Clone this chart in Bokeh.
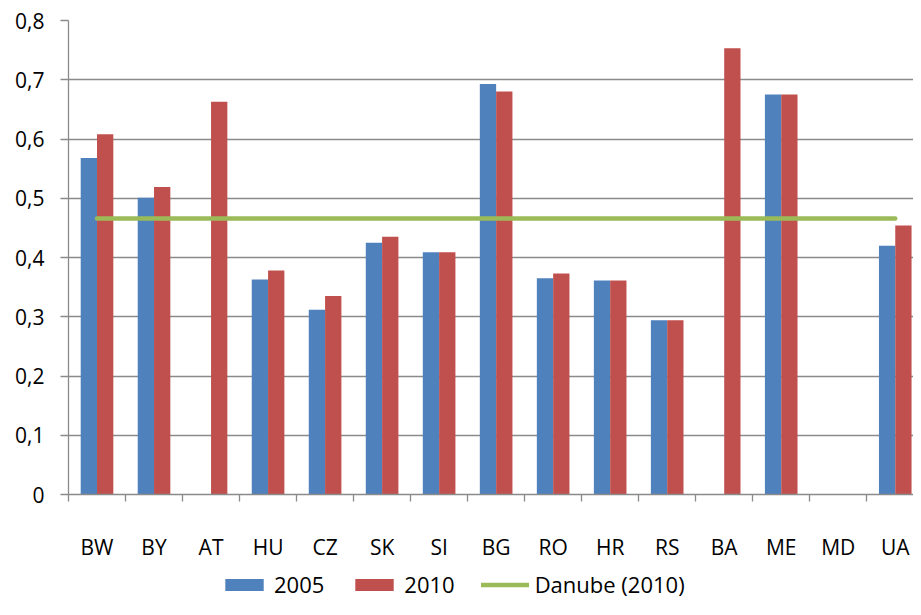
import numpy as np
from bokeh.plotting import figure
from bokeh.layouts import column
from bokeh.models import (ColumnDataSource, Range1d, FixedTicker, Legend, LegendItem)
from bokeh.embed import file_html
from bokeh.resources import INLINE

categories = ["BW", "BY", "AT", "HU", "CZ", "SK", "SI", "BG", "RO", "HR", "RS", "BA", "ME", "MD", "UA"]
values_2005 = [0.568, 0.501, None, 0.363, 0.312, 0.425, 0.409, 0.693, 0.365, 0.361, 0.294, None, 0.675, None, 0.420]
values_2010 = [0.608, 0.519, 0.663, 0.378, 0.335, 0.435, 0.409, 0.680, 0.373, 0.361, 0.294, 0.753, 0.675, None, 0.454]
danube_2010 = 0.466
y_ticks = [i / 10 for i in range(9)]
y_tick_labels = ["0", "0,1", "0,2", "0,3", "0,4", "0,5", "0,6", "0,7", "0,8"]
legend_labels = ["2005", "2010", "Danube (2010)"]

FONT = "Open Sans"
FS = "21px"
BLUE = "#4F81BD"
RED = "#C0504D"
GREEN = "#9BBB59"
GRID = "#8A8A8A"
W = 913

idx = np.arange(len(categories))

def series(vals, offset):
    xs, tops = [], []
    for i, v in enumerate(vals):
        if v is not None:
            xs.append(i + offset)
            tops.append(v)
    return ColumnDataSource(dict(x=xs, top=tops))

bw = 0.286
src_2005 = series(values_2005, -bw / 2)
src_2010 = series(values_2010, bw / 2)
src_danube = ColumnDataSource(dict(x=[idx[0], idx[-1]], y=[danube_2010, danube_2010]))

p = figure(width=W, height=563, output_backend="svg", toolbar_location=None,
           x_range=Range1d(-0.5, 14.32), y_range=Range1d(0, 0.8),
           min_border_left=68, min_border_right=0, min_border_top=20, min_border_bottom=69)
p.outline_line_color = None
p.background_fill_color = "white"

p.vbar(x="x", top="top", width=bw, bottom=0, source=src_2005, fill_color=BLUE, line_color=None)
p.vbar(x="x", top="top", width=bw, bottom=0, source=src_2010, fill_color=RED, line_color=None)
p.line(x="x", y="y", source=src_danube, line_color=GREEN, line_width=4.5, line_cap="round")

# grid
p.xgrid.grid_line_color = None
p.ygrid.grid_line_color = GRID
p.ygrid.grid_line_width = 1.3
p.ygrid.ticker = FixedTicker(ticks=y_ticks)

# y axis
p.yaxis.ticker = FixedTicker(ticks=y_ticks)
p.yaxis.major_label_overrides = {t: l for t, l in zip(y_ticks, y_tick_labels)}
p.yaxis.axis_line_color = GRID
p.yaxis.axis_line_width = 1.3
p.yaxis.major_tick_line_color = GRID
p.yaxis.major_tick_line_width = 1.3
p.yaxis.major_tick_out = 8
p.yaxis.major_tick_in = 0
p.yaxis.minor_tick_line_color = None
p.yaxis.major_label_standoff = 16
p.yaxis.major_label_text_font = FONT
p.yaxis.major_label_text_font_size = FS
p.yaxis.major_label_text_color = "black"

# x axis
p.xaxis.ticker = FixedTicker(ticks=list(idx), minor_ticks=[i - 0.5 for i in range(len(categories) + 1)])
p.xaxis.major_label_overrides = {int(i): c for i, c in zip(idx, categories)}
p.xaxis.axis_line_color = GRID
p.xaxis.axis_line_width = 1.3
p.xaxis.major_tick_line_color = None
p.xaxis.major_tick_out = 0
p.xaxis.major_tick_in = 0
p.xaxis.minor_tick_line_color = GRID
p.xaxis.minor_tick_line_width = 1.3
p.xaxis.minor_tick_out = 7
p.xaxis.minor_tick_in = 0
p.xaxis.major_label_standoff = 31
p.xaxis.major_label_text_font = FONT
p.xaxis.major_label_text_font_size = FS
p.xaxis.major_label_text_color = "black"

# legend strip: separate figure whose glyphs lie outside its visible ranges
lp = figure(width=W, height=36, output_backend="svg", toolbar_location=None,
            x_axis_type=None, y_axis_type=None, x_range=Range1d(-100, -99), y_range=Range1d(-100, -99),
            min_border=0)
lp.outline_line_color = None
lp.xgrid.grid_line_color = None
lp.ygrid.grid_line_color = None
l1 = lp.vbar(x="x", top="top", width=bw, source=src_2005, fill_color=BLUE, line_color=None)
l2 = lp.vbar(x="x", top="top", width=bw, source=src_2010, fill_color=RED, line_color=None)
l3 = lp.line(x="x", y="y", source=src_danube, line_color=GREEN, line_width=4.5, line_cap="round")

legend = Legend(items=[LegendItem(label=legend_labels[0], renderers=[l1]),
                       LegendItem(label=legend_labels[1], renderers=[l2]),
                       LegendItem(label=legend_labels[2], renderers=[l3])],
                orientation="horizontal", location=(152, 0),
                glyph_width=48, glyph_height=15, label_standoff=6, spacing=26,
                label_text_font=FONT, label_text_font_size="22px", label_text_color="black",
                border_line_color=None, background_fill_alpha=0, padding=0, margin=0)
lp.add_layout(legend, "center")

layout = column(p, lp, spacing=0)
open("out.html", "w").write(file_html(layout, INLINE))
